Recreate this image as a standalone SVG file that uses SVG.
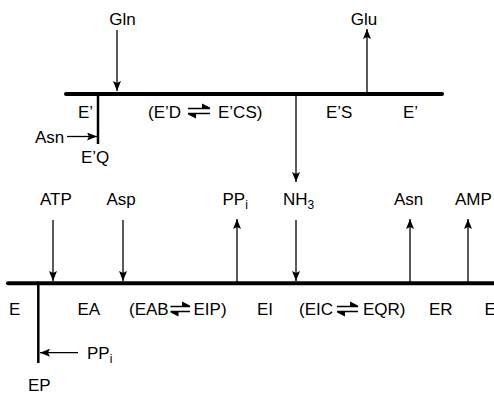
<svg xmlns="http://www.w3.org/2000/svg" width="494" height="394" viewBox="0 0 494 394">
<defs>
<style>
text{font-family:"Liberation Sans",Arial,sans-serif;font-size:17px;fill:#000}
.sub{font-size:12px}
.thick{stroke:#000;stroke-width:4;stroke-linecap:round;fill:none}
.bar{stroke:#000;stroke-width:2.5;fill:none}
.thin{stroke:#000;stroke-width:1.3;fill:none}
.harp{stroke:#000;stroke-width:1.6;fill:none}
.hb{fill:#000;stroke:none}
</style>
<marker id="ah" viewBox="0 0 10 8" refX="10" refY="4" markerWidth="10" markerHeight="8" markerUnits="userSpaceOnUse" orient="auto">
<path d="M0,0 L10,4 L0,8 L2,4 Z" fill="#000"/>
</marker>
</defs>

<g id="connectors">
<line class="thin" x1="117" y1="30" x2="117" y2="91" marker-end="url(#ah)"/>
<line class="thin" x1="367" y1="92" x2="367" y2="29" marker-end="url(#ah)"/>
<line class="thin" x1="67" y1="136.5" x2="97" y2="136.5" marker-end="url(#ah)"/>
<line class="thin" x1="296" y1="96" x2="296" y2="182" marker-end="url(#ah)"/>
<line class="thin" x1="53" y1="220" x2="53" y2="281" marker-end="url(#ah)"/>
<line class="thin" x1="123" y1="220" x2="123" y2="281" marker-end="url(#ah)"/>
<line class="thin" x1="237" y1="282" x2="237" y2="219" marker-end="url(#ah)"/>
<line class="thin" x1="296" y1="220" x2="296" y2="281" marker-end="url(#ah)"/>
<line class="thin" x1="410" y1="282" x2="410" y2="219" marker-end="url(#ah)"/>
<line class="thin" x1="468" y1="282" x2="468" y2="219" marker-end="url(#ah)"/>
<line class="thin" x1="78" y1="352.7" x2="40" y2="352.7" marker-end="url(#ah)"/>
</g>

<g id="top-pathway">
<line class="thick" x1="66" y1="94" x2="442" y2="94"/>
<line class="bar" x1="98" y1="94" x2="98" y2="144"/>
</g>

<g id="bottom-pathway">
<line class="thick" x1="8" y1="283.3" x2="500" y2="283.3"/>
<line class="bar" x1="38.3" y1="283" x2="38.3" y2="363"/>
</g>

<g id="node-Gln"><text x="122.5" y="25" text-anchor="middle">Gln</text></g>
<g id="node-Glu"><text x="364" y="25" text-anchor="middle">Glu</text></g>
<g id="node-Eprime1"><text x="78" y="118">E’</text></g>
<g id="node-EpD-EpCS">
<text x="148" y="118">(E’D</text>
<path class="harp" d="M188,108.5 H210 M188,113.5 H210"/>
<path class="hb" d="M210.5,107.7 L202,103.6 L202,108.5 Z M187.5,114.3 L196,118.4 L196,113.5 Z"/>
<text x="218" y="118">E’CS)</text>
</g>
<g id="node-EpS"><text x="326" y="118">E’S</text></g>
<g id="node-Eprime2"><text x="403" y="118">E’</text></g>
<g id="node-Asn-in"><text x="35" y="143">Asn</text></g>
<g id="node-EpQ"><text x="81" y="163">E’Q</text></g>

<g id="node-ATP"><text x="40" y="205">ATP</text></g>
<g id="node-Asp"><text x="106.5" y="205">Asp</text></g>
<g id="node-PPi-out"><text x="222.5" y="205">PP<tspan class="sub" dy="4">i</tspan></text></g>
<g id="node-NH3"><text x="283" y="205">NH<tspan class="sub" dy="4">3</tspan></text></g>
<g id="node-Asn-out"><text x="394" y="205">Asn</text></g>
<g id="node-AMP"><text x="455" y="205">AMP</text></g>

<g id="node-E1"><text x="9" y="315">E</text></g>
<g id="node-EA"><text x="77.5" y="315">EA</text></g>
<g id="node-EAB-EIP">
<text x="129" y="315">(EAB</text>
<path class="harp" d="M170.5,306.5 H190 M170.5,311.5 H190"/>
<path class="hb" d="M190.5,305.7 L182,301.6 L182,306.5 Z M170,312.3 L178.5,316.4 L178.5,311.5 Z"/>
<text x="193.5" y="315">EIP)</text>
</g>
<g id="node-EI"><text x="257" y="315">EI</text></g>
<g id="node-EIC-EQR">
<text x="299" y="315">(EIC</text>
<path class="harp" d="M337,306.5 H358 M337,311.5 H358"/>
<path class="hb" d="M358.5,305.7 L350,301.6 L350,306.5 Z M336.5,312.3 L345,316.4 L345,311.5 Z"/>
<text x="363" y="315">EQR)</text>
</g>
<g id="node-ER"><text x="429" y="315">ER</text></g>
<g id="node-E2"><text x="484.5" y="315">E</text></g>
<g id="node-PPi-in"><text x="87" y="359">PP<tspan class="sub" dy="4">i</tspan></text></g>
<g id="node-EP"><text x="28" y="391">EP</text></g>
</svg>
